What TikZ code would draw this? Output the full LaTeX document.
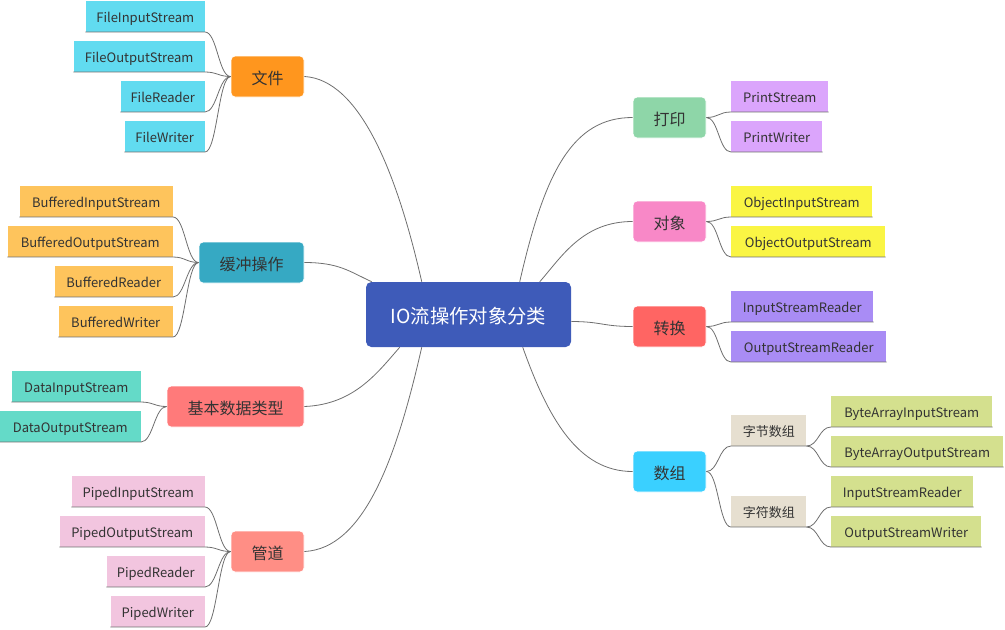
\documentclass[tikz,border=0pt]{standalone}
\usepackage{fontspec}
\setmainfont{Noto Sans CJK SC}
\usepackage{xcolor}
\usetikzlibrary{calc}

\definecolor{txt}{HTML}{333333}
\definecolor{linkgray}{HTML}{6E6E6E}
\definecolor{iocol}{HTML}{3E5BB9}
\definecolor{filecol}{HTML}{FF961E}
\definecolor{fileleaf}{HTML}{61DBF0}
\definecolor{bufcol}{HTML}{36A9C3}
\definecolor{bufleaf}{HTML}{FEC45C}
\definecolor{datacol}{HTML}{FF7A7A}
\definecolor{dataleaf}{HTML}{64DAC8}
\definecolor{pipecol}{HTML}{FF8E85}
\definecolor{pipeleaf}{HTML}{F2C5DF}
\definecolor{printcol}{HTML}{8ED6A8}
\definecolor{printleaf}{HTML}{DBA5FC}
\definecolor{objcol}{HTML}{F888C7}
\definecolor{objleaf}{HTML}{FAF544}
\definecolor{convcol}{HTML}{FF6563}
\definecolor{convleaf}{HTML}{A98CF5}
\definecolor{arrcol}{HTML}{3AD0FF}
\definecolor{arrsub}{HTML}{E6DFD0}
\definecolor{arrleaf}{HTML}{D4E08E}

\begin{document}
\begin{tikzpicture}[x=0.75pt, y=-0.75pt,
    wd/.style={minimum width=#1*0.75pt},
    branch/.style={rectangle, rounded corners=3pt, draw=white, line width=0.6pt,
        minimum height=41*0.75pt, inner sep=0pt, text=txt,
        text height=13.5pt, text depth=1.5pt,
        font=\fontsize{12}{14}\selectfont},
    leaf/.style={rectangle, minimum height=31*0.75pt, inner sep=0pt, text=txt,
        text height=11.5pt, text depth=1.7pt,
        font=\fontsize{9.75}{12}\selectfont},
    leafL/.style={leaf, anchor=south east},
    leafR/.style={leaf, anchor=south west},
    link/.style={draw=linkgray, line width=0.6pt}]
    \useasboundingbox (0,0) rectangle (1005,629);

    % root
    \node[rectangle, rounded corners=4pt, fill=iocol, wd=205, minimum height=65*0.75pt,
        inner sep=0pt, text=white, text height=16pt, text depth=1.8pt,
        font=\fontsize{14.5}{17}\selectfont] (io) at (468.5,314.5) {IO流操作对象分类};

    % left branches
    \node[branch, fill=filecol, wd=73] (file) at (267.5,76.5) {文件};
    \node[branch, fill=bufcol, wd=105] (buf) at (251.5,262.5) {缓冲操作};
    \node[branch, fill=datacol, wd=137] (data) at (235.5,406.5) {基本数据类型};
    \node[branch, fill=pipecol, wd=73] (pipe) at (267.5,551.5) {管道};

    % right branches
    \node[branch, fill=printcol, wd=73] (print) at (669.5,117.5) {打印};
    \node[branch, fill=objcol, wd=73] (obj) at (669.5,221.5) {对象};
    \node[branch, fill=convcol, wd=73] (conv) at (669.5,326.5) {转换};
    \node[branch, fill=arrcol, wd=73] (arr) at (669.5,471.5) {数组};

    % file leaves
    \node[leafL, fill=fileleaf, wd=119] (fis) at (205,32) {FileInputStream};
    \node[leafL, fill=fileleaf, wd=131] (fos) at (205,72) {FileOutputStream};
    \node[leafL, fill=fileleaf, wd=84] (fr) at (205,112) {FileReader};
    \node[leafL, fill=fileleaf, wd=80] (fw) at (205,152) {FileWriter};

    % buffered leaves
    \node[leafL, fill=bufleaf, wd=153] (bis) at (173,217) {BufferedInputStream};
    \node[leafL, fill=bufleaf, wd=165] (bos) at (173,257) {BufferedOutputStream};
    \node[leafL, fill=bufleaf, wd=118] (br) at (173,297) {BufferedReader};
    \node[leafL, fill=bufleaf, wd=114] (bw) at (173,337) {BufferedWriter};

    % data leaves
    \node[leafL, fill=dataleaf, wd=129] (dis) at (141,402) {DataInputStream};
    \node[leafL, fill=dataleaf, wd=141] (dos) at (141,442) {DataOutputStream};

    % piped leaves
    \node[leafL, fill=pipeleaf, wd=133] (pis) at (205,507) {PipedInputStream};
    \node[leafL, fill=pipeleaf, wd=145] (pos) at (205,547) {PipedOutputStream};
    \node[leafL, fill=pipeleaf, wd=98] (pr) at (205,587) {PipedReader};
    \node[leafL, fill=pipeleaf, wd=94] (pw) at (205,627) {PipedWriter};

    % print / object / convert leaves
    \node[leafR, fill=printleaf, wd=97] (ps) at (731,112) {PrintStream};
    \node[leafR, fill=printleaf, wd=91] (pwr) at (731,152) {PrintWriter};
    \node[leafR, fill=objleaf, wd=141] (ois) at (731,217) {ObjectInputStream};
    \node[leafR, fill=objleaf, wd=154] (oos) at (731,257) {ObjectOutputStream};
    \node[leafR, fill=convleaf, wd=142] (isr) at (731,322) {InputStreamReader};
    \node[leafR, fill=convleaf, wd=155] (osr) at (731,362) {OutputStreamReader};

    % array sub-branches and leaves
    \node[leafR, fill=arrsub, wd=75] (bytes) at (731,446) {字节数组};
    \node[leafR, fill=arrsub, wd=75] (chars) at (731,527) {字符数组};
    \node[leafR, fill=arrleaf, wd=161] (bais) at (831,427) {ByteArrayInputStream};
    \node[leafR, fill=arrleaf, wd=172] (baos) at (831,467) {ByteArrayOutputStream};
    \node[leafR, fill=arrleaf, wd=142] (cisr) at (831,507) {InputStreamReader};
    \node[leafR, fill=arrleaf, wd=150] (cosw) at (831,547) {OutputStreamWriter};

    % root to branches
    \draw[link] (file.east) .. controls +(55,3) and +(-25,-110) .. ($(io.north west)+(56,0)$);
    \draw[link] (buf.east) .. controls +(35,0) and +(-22,-10) .. ($(io.north west)+(6,0)$);
    \draw[link] (data.east) .. controls +(50,-2) and +(-22,25) .. ($(io.south west)+(34,0)$);
    \draw[link] (pipe.east) .. controls +(60,-3) and +(-25,110) .. ($(io.south west)+(56,0)$);
    \draw[link] (print.west) .. controls +(-60,0) and +(25,-110) .. ($(io.north west)+(154,0)$);
    \draw[link] (obj.west) .. controls +(-50,0) and +(22,-25) .. ($(io.north west)+(174,0)$);
    \draw[link] (conv.west) .. controls +(-30,0) and +(30,0) .. ($(io.east)+(0,7)$);
    \draw[link] (arr.west) .. controls +(-55,0) and +(25,70) .. ($(io.south west)+(157,0)$);

    % branches to leaves
    \foreach \n in {fis,fos,fr,fw}
        \draw[link] (\n.south west) -- (\n.south east) .. controls +(12,0) and +(-12,0) .. (file.west);
    \foreach \n in {bis,bos,br,bw}
        \draw[link] (\n.south west) -- (\n.south east) .. controls +(12,0) and +(-12,0) .. (buf.west);
    \foreach \n in {dis,dos}
        \draw[link] (\n.south west) -- (\n.south east) .. controls +(12,0) and +(-12,0) .. (data.west);
    \foreach \n in {pis,pos,pr,pw}
        \draw[link] (\n.south west) -- (\n.south east) .. controls +(12,0) and +(-12,0) .. (pipe.west);
    \foreach \n in {ps,pwr}
        \draw[link] (\n.south east) -- (\n.south west) .. controls +(-12,0) and +(12,0) .. (print.east);
    \foreach \n in {ois,oos}
        \draw[link] (\n.south east) -- (\n.south west) .. controls +(-12,0) and +(12,0) .. (obj.east);
    \foreach \n in {isr,osr}
        \draw[link] (\n.south east) -- (\n.south west) .. controls +(-12,0) and +(12,0) .. (conv.east);
    \foreach \n in {bytes,chars}
        \draw[link] (\n.south east) -- (\n.south west) .. controls +(-12,0) and +(12,0) .. (arr.east);
    \foreach \n in {bais,baos}
        \draw[link] (\n.south east) -- (\n.south west) .. controls +(-12,0) and +(12,0) .. (bytes.south east);
    \foreach \n in {cisr,cosw}
        \draw[link] (\n.south east) -- (\n.south west) .. controls +(-12,0) and +(12,0) .. (chars.south east);
\end{tikzpicture}
\end{document}
